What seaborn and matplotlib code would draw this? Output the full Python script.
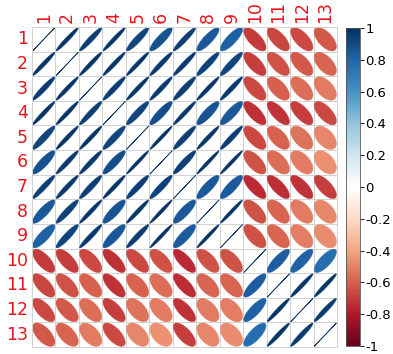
import numpy as np
import pandas as pd
import seaborn as sns
import matplotlib.pyplot as plt
from matplotlib.colors import LinearSegmentedColormap, ListedColormap, Normalize
from matplotlib.cm import ScalarMappable
from matplotlib.patches import Polygon

plt.rcParams['axes.unicode_minus'] = False

labels = [str(i) for i in range(1, 14)]

# upper triangle of the correlation matrix, row by row
upper = [
    [0.97, 0.95, 0.97, 0.92, 0.87, 0.95, 0.85, 0.82, -0.70, -0.67, -0.66, -0.62],
    [0.97, 0.97, 0.97, 0.96, 0.96, 0.93, 0.92, -0.69, -0.64, -0.62, -0.58],
    [0.95, 0.97, 0.96, 0.94, 0.97, 0.96, -0.66, -0.60, -0.56, -0.52],
    [0.92, 0.89, 0.97, 0.86, 0.85, -0.73, -0.72, -0.69, -0.66],
    [0.98, 0.94, 0.97, 0.95, -0.66, -0.59, -0.54, -0.49],
    [0.93, 0.98, 0.98, -0.64, -0.56, -0.52, -0.46],
    [0.85, 0.84, -0.75, -0.74, -0.72, -0.69],
    [0.98, -0.64, -0.58, -0.52, -0.49],
    [-0.64, -0.58, -0.51, -0.47],
    [0.83, 0.82, 0.76],
    [0.97, 0.97],
    [0.96],
]

n = len(labels)
corr = np.eye(n)
for i, row in enumerate(upper):
    for k, v in enumerate(row):
        corr[i, i + 1 + k] = v
        corr[i + 1 + k, i] = v
df = pd.DataFrame(corr, index=labels, columns=labels)

# corrplot's RdBu ramp
cmap = LinearSegmentedColormap.from_list('corr', [
    "#67001F", "#B2182B", "#D6604D", "#F4A582", "#FDDBC7", "#FFFFFF",
    "#D1E5F0", "#92C5DE", "#4393C3", "#2166AC", "#053061"])
norm = Normalize(-1, 1)

fig = plt.figure(figsize=(3.93, 3.54), dpi=100)
ax = fig.add_axes([32 / 393, 1 - 347 / 354, 305 / 393, 320 / 354])
cax = fig.add_axes([346 / 393, 1 - 346 / 354, 14 / 393, 318 / 354])

# white grid of cells with grey borders
sns.heatmap(df, cmap=ListedColormap(['white']), cbar=False, ax=ax,
            linewidths=0.7, linecolor='#d2d2d2', square=False)

# ellipses (same construction as corrplot)
t = np.linspace(0, 2 * np.pi, 100)
for i in range(n):
    for j in range(n):
        r = df.iloc[i, j]
        d = np.arccos(np.clip(r, -1, 1))
        dx = 0.475 * np.cos(t + d / 2)
        dy = 0.475 * np.cos(t - d / 2)
        col = cmap(norm(r))
        ax.add_patch(Polygon(np.column_stack([j + 0.5 + dx, i + 0.5 - dy]),
                             closed=True, facecolor=col, edgecolor=col,
                             linewidth=0.5 if abs(r) > 0.99 else 0.3))

for s in ax.spines.values():
    s.set_visible(True)
    s.set_color('#d2d2d2')
    s.set_linewidth(0.7)

ax.xaxis.tick_top()
ax.set_xticks(np.arange(n) + 0.5)
ax.set_yticks(np.arange(n) + 0.5)
ax.set_xticklabels(labels, rotation=90, color='#e8141c', fontsize=12.5)
ax.set_yticklabels(labels, rotation=0, color='#e8141c', fontsize=12.5)
ax.tick_params(length=0, pad=3)
ax.set_xlabel('')
ax.set_ylabel('')

cb = fig.colorbar(ScalarMappable(norm=norm, cmap=cmap), cax=cax)
cb.set_ticks(np.round(np.arange(-1, 1.01, 0.2), 1))
cb.set_ticklabels(['-1', '-0.8', '-0.6', '-0.4', '-0.2', '0',
                   '0.2', '0.4', '0.6', '0.8', '1'])
cb.outline.set_linewidth(0.6)
cb.outline.set_edgecolor('#555555')
cax.tick_params(labelsize=9.5, length=3, width=0.6, pad=1)

fig.savefig('out.png', dpi=100)
